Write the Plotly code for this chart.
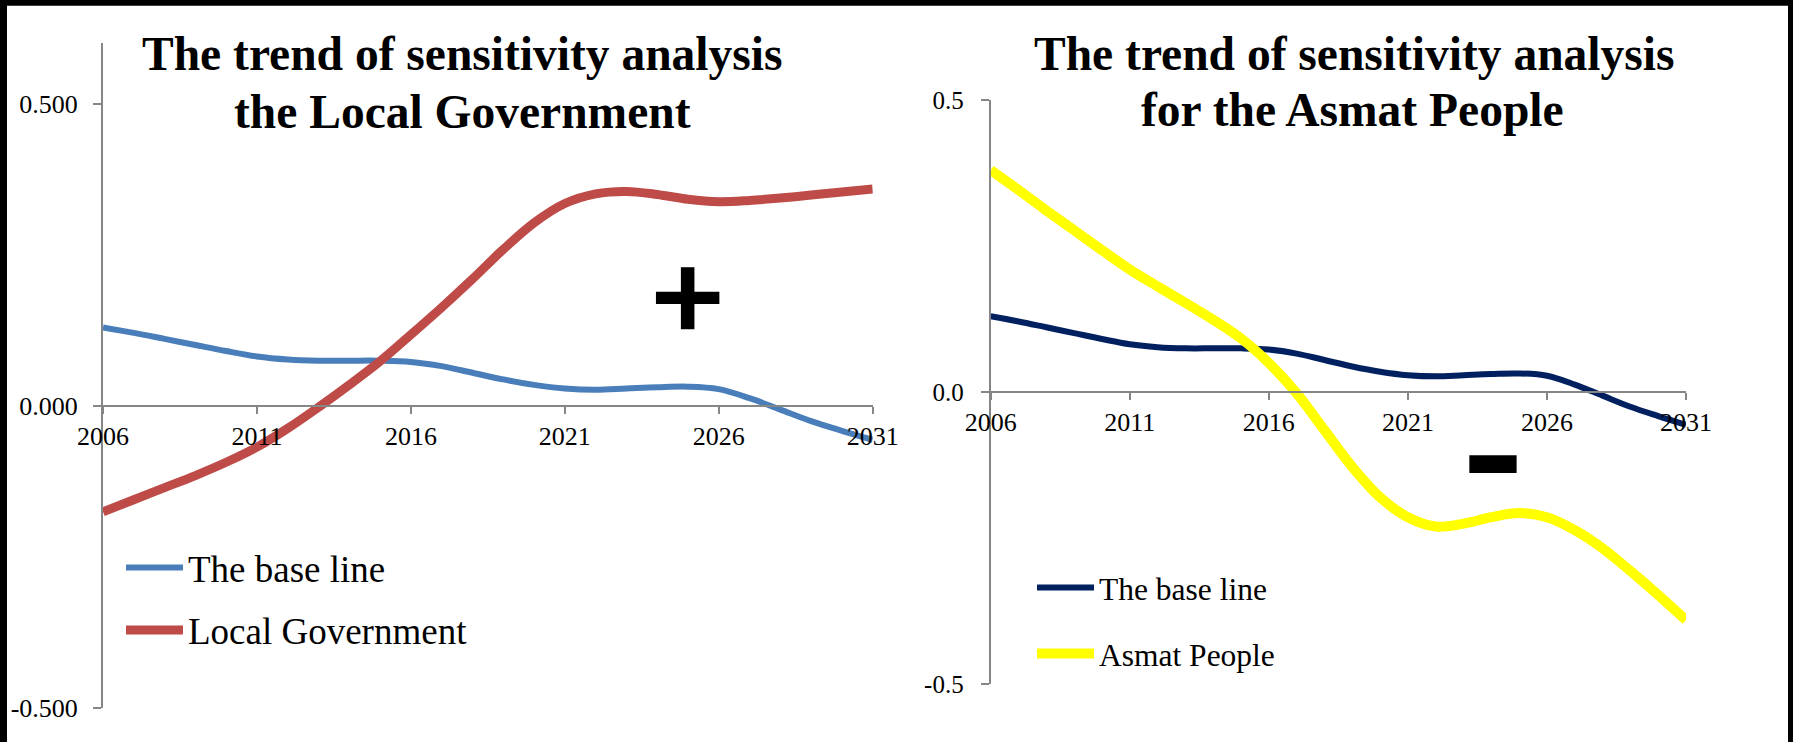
import plotly.graph_objects as go

W, H = 1793, 742

years = list(range(2006, 2032))
base_line = [0.130, 0.121, 0.111, 0.101, 0.091, 0.082, 0.077, 0.075, 0.075, 0.075,
             0.073, 0.066, 0.055, 0.044, 0.035, 0.029, 0.027, 0.029, 0.031, 0.032,
             0.028, 0.013, -0.006, -0.025, -0.041, -0.056]
local_government = [-0.175, -0.155, -0.135, -0.115, -0.093, -0.068, -0.037, -0.002, 0.035, 0.074,
                    0.118, 0.163, 0.210, 0.259, 0.303, 0.335, 0.351, 0.355, 0.350, 0.342,
                    0.338, 0.340, 0.344, 0.349, 0.354, 0.359]
asmat_people = [0.380, 0.346, 0.311, 0.277, 0.243, 0.210, 0.181, 0.153, 0.124, 0.092,
                0.050, -0.002, -0.065, -0.128, -0.180, -0.214, -0.230, -0.225, -0.214, -0.207,
                -0.214, -0.236, -0.267, -0.306, -0.347, -0.390]

x_ticks = [2006, 2011, 2016, 2021, 2026, 2031]
left_y_ticks = [-0.5, 0.0, 0.5]
left_y_text = ["-0.500", "0.000", "0.500"]
right_y_ticks = [-0.5, 0.0, 0.5]
right_y_text = ["-0.5", "0.0", "0.5"]

title_left = ["The trend of sensitivity analysis", "the Local Government"]
title_right = ["The trend of sensitivity analysis", "for the Asmat People"]

FONT = "Liberation Serif, Times New Roman, serif"
AXIS_GRAY = "#868686"


def px_x(p):
    return p / W


def px_y(p):
    return 1 - p / H


fig = go.Figure()

fig.add_trace(go.Scatter(x=years, y=base_line, mode="lines", name="The base line",
                         line=dict(color="#4A7EBB", width=6, shape="spline", smoothing=1.0),
                         xaxis="x", yaxis="y", legend="legend", hoverinfo="skip"))
fig.add_trace(go.Scatter(x=years, y=local_government, mode="lines", name="Local Government",
                         line=dict(color="#BE4B48", width=9, shape="spline", smoothing=1.0),
                         xaxis="x", yaxis="y", legend="legend2", hoverinfo="skip"))
fig.add_trace(go.Scatter(x=years, y=base_line, mode="lines", name="The base line",
                         line=dict(color="#002060", width=6, shape="spline", smoothing=1.0),
                         xaxis="x2", yaxis="y2", legend="legend3", hoverinfo="skip"))
fig.add_trace(go.Scatter(x=years, y=asmat_people, mode="lines", name="Asmat People",
                         line=dict(color="#FFFF00", width=10, shape="spline", smoothing=1.0),
                         xaxis="x2", yaxis="y2", legend="legend4", hoverinfo="skip"))

common_x = dict(tickvals=x_ticks, showgrid=False, zeroline=False, showline=True,
                linecolor=AXIS_GRAY, linewidth=2, ticks="outside", ticklen=7,
                tickcolor=AXIS_GRAY, tickwidth=2, anchor="free", automargin=False,
                tickfont=dict(family=FONT, size=26, color="black"))
common_y = dict(showgrid=False, zeroline=False, showline=True, linecolor=AXIS_GRAY,
                linewidth=2, ticks="outside", ticklen=8, tickcolor=AXIS_GRAY, tickwidth=2,
                automargin=False)

legend_common = dict(bgcolor="rgba(0,0,0,0)", borderwidth=0, xanchor="left",
                     yanchor="middle", itemwidth=57)

fig.update_layout(
    template="none",
    width=W, height=H,
    margin=dict(l=0, r=0, t=0, b=0, pad=0, autoexpand=False),
    paper_bgcolor="black",
    plot_bgcolor="rgba(0,0,0,0)",
    xaxis=dict(domain=[px_x(103), px_x(872.7)], range=[2006, 2031],
               position=px_y(406), **common_x),
    yaxis=dict(domain=[px_y(708.3), px_y(43.3)], range=[-0.5, 0.6],
               tickvals=left_y_ticks, ticktext=left_y_text, anchor="x",
               tickfont=dict(family=FONT, size=26, color="black"),
               ticklabelstandoff=10, **common_y),
    xaxis2=dict(domain=[px_x(990.7), px_x(1686)], range=[2006, 2031],
                position=px_y(392), **common_x),
    yaxis2=dict(domain=[px_y(684.3), px_y(100)], range=[-0.5, 0.5],
                tickvals=right_y_ticks, ticktext=right_y_text, anchor="x2",
                tickfont=dict(family=FONT, size=25, color="black"),
                ticklabelstandoff=12, **common_y),
    legend=dict(x=px_x(121), y=px_y(568),
                font=dict(family=FONT, size=37, color="black"), **legend_common),
    legend2=dict(x=px_x(121), y=px_y(630.5),
                 font=dict(family=FONT, size=37, color="black"), **legend_common),
    legend3=dict(x=px_x(1032), y=px_y(587.5),
                 font=dict(family=FONT, size=31.5, color="black"), **legend_common),
    legend4=dict(x=px_x(1032), y=px_y(653.5),
                 font=dict(family=FONT, size=31.5, color="black"), **legend_common),
    showlegend=True,
)

# white page area inside the black frame
fig.add_shape(type="rect", xref="paper", yref="paper", layer="below",
              x0=px_x(7), x1=px_x(1788), y0=0, y1=px_y(5.7),
              fillcolor="white", line=dict(width=0))

# "+" sign on the left chart
fig.add_shape(type="rect", xref="x", yref="y", x0=2023.96, x1=2026.02, y0=0.1689, y1=0.1892,
              fillcolor="black", line=dict(width=0))
fig.add_shape(type="rect", xref="x", yref="y", x0=2024.77, x1=2025.21, y0=0.127, y1=0.2296,
              fillcolor="black", line=dict(width=0))
# "-" sign on the right chart
fig.add_shape(type="rect", xref="x2", yref="y2", x0=2023.21, x1=2024.91, y0=-0.1382, y1=-0.1079,
              fillcolor="black", line=dict(width=0))

title_font = dict(family=FONT, size=47.5, color="black", weight="bold")
for text, xc, yc in [(title_left[0], 462, 54.5), (title_left[1], 462, 112),
                     (title_right[0], 1354, 54.5), (title_right[1], 1352, 110)]:
    fig.add_annotation(text=f"<b>{text}</b>", xref="paper", yref="paper",
                       x=px_x(xc), y=px_y(yc), xanchor="center", yanchor="middle",
                       showarrow=False, font=title_font)

fig.write_html("out.html")
